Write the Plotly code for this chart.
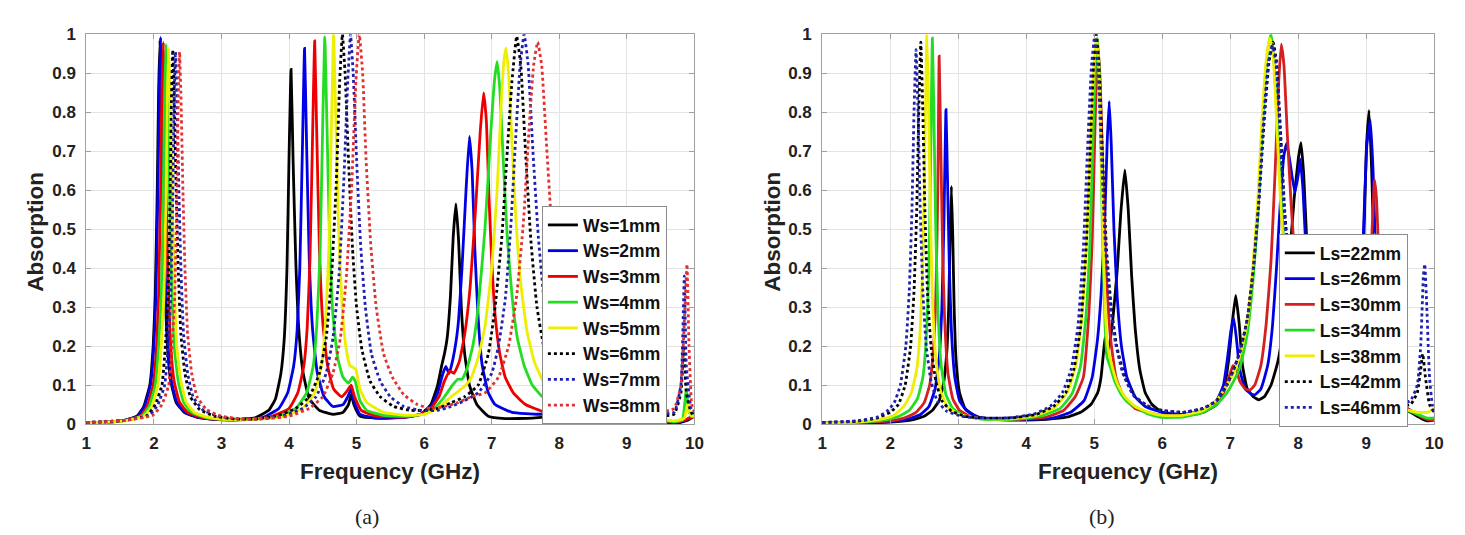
import plotly.graph_objects as go

# ---------------- data: panel (a), Ws sweep ----------------
ws_labels = ["Ws=1mm", "Ws=2mm", "Ws=3mm", "Ws=4mm", "Ws=5mm", "Ws=6mm", "Ws=7mm", "Ws=8mm"]

ws1 = [(1.0,0.003),(1.3,0.005),(1.55,0.009),(1.75,0.02),(1.85,0.045),(1.94,0.1),(1.99,0.2),(2.02,0.33),(2.05,0.6),(2.07,0.85),(2.09,0.985),(2.11,0.85),(2.13,0.6),(2.16,0.37),(2.2,0.2),(2.25,0.11),(2.33,0.055),(2.45,0.03),(2.65,0.017),(2.9,0.012),(3.2,0.011),
       (3.5,0.016),(3.7,0.035),(3.8,0.065),(3.88,0.13),(3.93,0.22),(3.97,0.4),(4.0,0.68),(4.03,0.91),(4.06,0.68),(4.1,0.42),(4.15,0.23),(4.21,0.13),(4.3,0.065),(4.45,0.035),(4.65,0.025),(4.8,0.03),(4.88,0.05),(4.92,0.075),(4.96,0.05),(5.05,0.02),(5.3,0.015),(5.7,0.018),(5.95,0.025),
       (6.1,0.05),(6.2,0.1),(6.26,0.15),(6.3,0.18),(6.34,0.22),(6.39,0.33),(6.43,0.48),(6.47,0.565),(6.51,0.47),(6.55,0.3),(6.6,0.18),(6.67,0.1),(6.78,0.05),(6.95,0.02),(7.2,0.014),(7.6,0.015),(8.0,0.022),(8.3,0.03),(8.6,0.028),(9.0,0.02),(9.4,0.01),(9.6,0.004),(9.75,0.003),(9.9,0.01),(10.0,0.02)]
ws2 = [(1.0,0.003),(1.3,0.005),(1.55,0.009),(1.75,0.019),(1.86,0.045),(1.95,0.1),(2.0,0.2),(2.03,0.33),(2.06,0.6),(2.08,0.85),(2.1,0.993),(2.12,0.86),(2.14,0.62),(2.17,0.38),(2.21,0.2),(2.26,0.11),(2.34,0.056),(2.46,0.03),(2.66,0.017),(2.9,0.012),(3.2,0.011),
       (3.6,0.016),(3.85,0.04),(3.98,0.08),(4.07,0.15),(4.12,0.24),(4.16,0.4),(4.2,0.72),(4.23,0.964),(4.26,0.72),(4.3,0.42),(4.35,0.24),(4.42,0.13),(4.52,0.07),(4.65,0.045),(4.8,0.05),(4.87,0.07),(4.92,0.09),(4.96,0.06),(5.05,0.025),(5.3,0.015),(5.7,0.017),(5.95,0.025),
       (6.1,0.045),(6.2,0.08),(6.27,0.125),(6.32,0.148),(6.37,0.13),(6.43,0.17),(6.5,0.25),(6.56,0.4),(6.62,0.6),(6.67,0.738),(6.71,0.65),(6.75,0.45),(6.8,0.27),(6.86,0.15),(6.95,0.08),(7.05,0.05),(7.3,0.03),(7.7,0.025),(8.0,0.03),(8.5,0.035),(9.0,0.028),(9.4,0.015),(9.65,0.003),(9.8,0.005),(9.92,0.015),(10.0,0.03)]
ws3 = [(1.0,0.003),(1.3,0.005),(1.6,0.01),(1.8,0.02),(1.9,0.045),(1.99,0.1),(2.04,0.2),(2.07,0.33),(2.1,0.6),(2.12,0.85),(2.14,0.98),(2.16,0.85),(2.18,0.6),(2.21,0.38),(2.25,0.2),(2.3,0.11),(2.38,0.056),(2.5,0.03),(2.7,0.017),(2.95,0.012),(3.25,0.011),
       (3.7,0.017),(4.0,0.04),(4.13,0.08),(4.22,0.15),(4.27,0.25),(4.31,0.42),(4.35,0.75),(4.38,0.983),(4.41,0.75),(4.45,0.45),(4.5,0.26),(4.57,0.15),(4.66,0.09),(4.78,0.07),(4.86,0.085),(4.92,0.1),(4.97,0.07),(5.07,0.035),(5.3,0.02),(5.7,0.018),(5.95,0.025),
       (6.1,0.04),(6.22,0.07),(6.3,0.11),(6.38,0.136),(6.44,0.13),(6.52,0.16),(6.6,0.23),(6.68,0.35),(6.76,0.55),(6.83,0.75),(6.88,0.85),(6.92,0.78),(6.96,0.58),(7.0,0.42),(7.05,0.28),(7.12,0.18),(7.2,0.12),(7.32,0.08),(7.5,0.05),(7.8,0.03),(8.2,0.025),(8.6,0.025),(9.0,0.02),(9.4,0.012),(9.7,0.005),(9.85,0.01),(10.0,0.02)]
ws4 = [(1.0,0.003),(1.3,0.005),(1.6,0.01),(1.82,0.02),(1.93,0.045),(2.02,0.1),(2.07,0.2),(2.11,0.33),(2.14,0.6),(2.16,0.85),(2.18,0.975),(2.2,0.85),(2.23,0.6),(2.26,0.38),(2.3,0.2),(2.36,0.11),(2.44,0.056),(2.56,0.03),(2.76,0.017),(3.0,0.012),(3.3,0.011),
       (3.8,0.017),(4.1,0.04),(4.26,0.08),(4.36,0.15),(4.41,0.25),(4.46,0.44),(4.5,0.78),(4.53,0.993),(4.56,0.78),(4.6,0.48),(4.65,0.28),(4.72,0.17),(4.8,0.12),(4.88,0.105),(4.94,0.12),(4.98,0.11),(5.05,0.06),(5.15,0.035),(5.4,0.022),(5.75,0.02),(6.0,0.025),
       (6.15,0.04),(6.3,0.07),(6.42,0.1),(6.5,0.115),(6.56,0.115),(6.63,0.14),(6.72,0.2),(6.8,0.3),(6.9,0.5),(6.98,0.73),(7.04,0.88),(7.08,0.93),(7.12,0.86),(7.17,0.68),(7.23,0.48),(7.3,0.33),(7.38,0.22),(7.48,0.15),(7.6,0.1),(7.75,0.07),(7.95,0.045),(8.2,0.03),(8.6,0.025),(9.0,0.02),(9.4,0.012),(9.7,0.006),(9.82,0.01),(9.88,0.09),(9.92,0.03),(10.0,0.02)]
ws5 = [(1.0,0.003),(1.3,0.005),(1.6,0.009),(1.85,0.02),(1.97,0.045),(2.06,0.1),(2.11,0.2),(2.15,0.33),(2.18,0.6),(2.2,0.85),(2.22,0.965),(2.24,0.85),(2.27,0.6),(2.3,0.38),(2.34,0.2),(2.4,0.11),(2.48,0.056),(2.6,0.03),(2.8,0.017),(3.05,0.012),(3.35,0.011),
       (3.9,0.018),(4.2,0.04),(4.38,0.08),(4.48,0.15),(4.54,0.26),(4.59,0.45),(4.63,0.78),(4.66,1.0),(4.69,0.8),(4.73,0.52),(4.78,0.32),(4.84,0.2),(4.9,0.15),(4.95,0.145),(4.99,0.14),(5.05,0.09),(5.15,0.055),(5.4,0.03),(5.75,0.022),(6.0,0.025),
       (6.2,0.04),(6.4,0.07),(6.55,0.09),(6.62,0.1),(6.7,0.12),(6.8,0.17),(6.9,0.25),(7.0,0.4),(7.08,0.6),(7.14,0.82),(7.18,0.93),(7.21,0.965),(7.25,0.9),(7.3,0.72),(7.36,0.52),(7.43,0.36),(7.52,0.24),(7.63,0.16),(7.76,0.11),(7.92,0.075),(8.15,0.05),(8.5,0.035),(9.0,0.025),(9.4,0.015),(9.7,0.008),(9.85,0.015),(9.9,0.05),(9.95,0.02),(10.0,0.02)]
ws6 = [(1.0,0.004),(1.3,0.006),(1.6,0.01),(1.9,0.022),(2.02,0.05),(2.12,0.1),(2.17,0.2),(2.21,0.33),(2.24,0.58),(2.26,0.83),(2.28,0.96),(2.3,0.85),(2.33,0.6),(2.36,0.4),(2.4,0.23),(2.46,0.13),(2.54,0.07),(2.68,0.037),(2.9,0.02),(3.2,0.013),(3.5,0.013),
       (3.8,0.02),(4.1,0.04),(4.3,0.07),(4.45,0.13),(4.55,0.22),(4.63,0.38),(4.7,0.62),(4.75,0.88),(4.79,1.0),(4.83,0.9),(4.88,0.68),(4.94,0.45),(5.0,0.3),(5.08,0.19),(5.2,0.11),(5.35,0.07),(5.55,0.045),(5.8,0.035),(6.0,0.035),
       (6.2,0.04),(6.4,0.055),(6.6,0.07),(6.8,0.1),(6.95,0.18),(7.05,0.3),(7.15,0.48),(7.23,0.7),(7.3,0.88),(7.37,0.995),(7.43,0.92),(7.5,0.7),(7.58,0.47),(7.67,0.3),(7.78,0.19),(7.92,0.12),(8.1,0.075),(8.4,0.05),(8.8,0.035),(9.2,0.025),(9.5,0.02),(9.7,0.025),(9.8,0.08),(9.84,0.2),(9.88,0.08),(9.95,0.03),(10.0,0.02)]
ws7 = [(1.0,0.004),(1.3,0.006),(1.6,0.01),(1.93,0.022),(2.06,0.05),(2.16,0.1),(2.21,0.2),(2.25,0.33),(2.28,0.58),(2.3,0.83),(2.32,0.955),(2.34,0.85),(2.37,0.6),(2.4,0.4),(2.44,0.23),(2.5,0.13),(2.58,0.07),(2.72,0.037),(2.95,0.02),(3.25,0.013),(3.55,0.013),
       (3.9,0.02),(4.2,0.04),(4.4,0.07),(4.55,0.13),(4.65,0.22),(4.74,0.38),(4.81,0.62),(4.87,0.88),(4.91,1.0),(4.95,0.9),(5.0,0.68),(5.06,0.46),(5.13,0.3),(5.22,0.18),(5.35,0.11),(5.5,0.07),(5.7,0.045),(5.95,0.035),
       (6.2,0.035),(6.4,0.045),(6.6,0.06),(6.8,0.08),(7.0,0.13),(7.1,0.2),(7.2,0.32),(7.28,0.5),(7.35,0.72),(7.42,0.92),(7.48,1.0),(7.54,0.92),(7.61,0.7),(7.69,0.48),(7.78,0.31),(7.9,0.2),(8.05,0.13),(8.25,0.08),(8.6,0.05),(9.0,0.035),(9.4,0.025),(9.7,0.03),(9.8,0.1),(9.85,0.38),(9.88,0.15),(9.95,0.04),(10.0,0.03)]
ws8 = [(1.0,0.004),(1.3,0.006),(1.6,0.01),(1.98,0.022),(2.12,0.05),(2.22,0.1),(2.27,0.2),(2.31,0.33),(2.34,0.58),(2.36,0.83),(2.38,0.955),(2.4,0.85),(2.43,0.6),(2.46,0.4),(2.5,0.23),(2.56,0.13),(2.64,0.07),(2.78,0.037),(3.0,0.02),(3.3,0.013),(3.6,0.013),
       (4.0,0.02),(4.3,0.04),(4.5,0.07),(4.65,0.13),(4.76,0.22),(4.85,0.38),(4.93,0.62),(4.99,0.88),(5.04,1.0),(5.09,0.9),(5.14,0.68),(5.21,0.46),(5.29,0.3),(5.4,0.18),(5.53,0.12),(5.7,0.075),(5.9,0.05),
       (6.1,0.04),(6.3,0.045),(6.5,0.055),(6.7,0.07),(6.9,0.08),(7.1,0.12),(7.25,0.2),(7.37,0.33),(7.47,0.52),(7.55,0.75),(7.62,0.92),(7.68,0.98),(7.74,0.92),(7.81,0.72),(7.89,0.5),(7.98,0.33),(8.1,0.21),(8.25,0.13),(8.45,0.08),(8.8,0.05),(9.2,0.035),(9.5,0.03),(9.7,0.04),(9.8,0.1),(9.86,0.3),(9.89,0.41),(9.92,0.2),(9.96,0.05),(10.0,0.03)]

# ---------------- data: panel (b), Ls sweep ----------------
ls_labels = ["Ls=22mm", "Ls=26mm", "Ls=30mm", "Ls=34mm", "Ls=38mm", "Ls=42mm", "Ls=46mm"]

ls22 = [(1.0,0.002),(1.5,0.003),(2.0,0.005),(2.3,0.01),(2.5,0.02),(2.62,0.035),(2.72,0.06),(2.78,0.1),(2.83,0.18),(2.86,0.3),(2.88,0.48),(2.9,0.61),(2.92,0.48),(2.94,0.3),(2.97,0.16),(3.02,0.08),(3.1,0.04),(3.25,0.02),(3.5,0.012),(3.9,0.01),
        (4.3,0.012),(4.6,0.018),(4.8,0.03),(4.95,0.05),(5.05,0.08),(5.1,0.12),(5.14,0.19),(5.16,0.223),(5.18,0.18),(5.22,0.2),(5.28,0.28),(5.34,0.4),(5.39,0.54),(5.45,0.652),(5.5,0.55),(5.55,0.38),(5.6,0.25),(5.67,0.14),(5.75,0.08),(5.85,0.05),(6.0,0.03),(6.3,0.022),
        (6.6,0.03),(6.8,0.05),(6.92,0.1),(6.98,0.17),(7.03,0.26),(7.08,0.33),(7.13,0.26),(7.18,0.15),(7.25,0.09),(7.34,0.07),(7.42,0.062),(7.5,0.07),(7.6,0.1),(7.7,0.16),(7.78,0.25),(7.86,0.4),(7.94,0.58),(8.0,0.68),(8.04,0.722),(8.08,0.64),(8.13,0.45),(8.2,0.26),(8.3,0.14),(8.45,0.08),
        (8.65,0.06),(8.8,0.08),(8.9,0.2),(8.96,0.45),(9.0,0.7),(9.04,0.805),(9.08,0.65),(9.12,0.4),(9.18,0.2),(9.28,0.1),(9.45,0.05),(9.65,0.03),(9.8,0.015),(9.9,0.008),(10.0,0.01)]
ls26 = [(1.0,0.002),(1.5,0.003),(2.0,0.006),(2.25,0.012),(2.45,0.025),(2.57,0.045),(2.66,0.09),(2.72,0.17),(2.76,0.3),(2.79,0.52),(2.82,0.807),(2.84,0.65),(2.87,0.4),(2.9,0.24),(2.95,0.12),(3.02,0.06),(3.12,0.035),(3.3,0.018),(3.6,0.012),(4.0,0.012),
        (4.4,0.016),(4.65,0.03),(4.85,0.06),(4.97,0.12),(5.05,0.22),(5.1,0.33),(5.15,0.5),(5.19,0.72),(5.22,0.828),(5.25,0.72),(5.29,0.5),(5.34,0.32),(5.4,0.2),(5.48,0.12),(5.6,0.07),(5.75,0.045),(6.0,0.03),(6.3,0.025),
        (6.6,0.035),(6.8,0.06),(6.9,0.1),(6.96,0.17),(7.01,0.24),(7.05,0.272),(7.09,0.22),(7.14,0.14),(7.22,0.09),(7.3,0.078),(7.36,0.075),(7.45,0.09),(7.55,0.15),(7.62,0.25),(7.68,0.4),(7.74,0.58),(7.79,0.69),(7.83,0.72),(7.88,0.67),(7.95,0.594),(8.0,0.64),(8.03,0.68),(8.07,0.6),(8.12,0.42),(8.18,0.25),(8.26,0.14),(8.4,0.08),
        (8.6,0.06),(8.8,0.09),(8.9,0.22),(8.96,0.5),(9.01,0.72),(9.06,0.78),(9.1,0.65),(9.14,0.42),(9.2,0.22),(9.3,0.11),(9.45,0.06),(9.65,0.035),(9.8,0.02),(9.9,0.012),(10.0,0.015)]
ls30 = [(1.0,0.002),(1.5,0.004),(2.0,0.008),(2.2,0.015),(2.38,0.03),(2.5,0.055),(2.58,0.1),(2.63,0.18),(2.67,0.32),(2.7,0.6),(2.72,0.944),(2.74,0.75),(2.77,0.45),(2.8,0.27),(2.85,0.13),(2.92,0.065),(3.02,0.035),(3.2,0.018),(3.5,0.012),(3.9,0.012),
        (4.3,0.018),(4.55,0.035),(4.72,0.07),(4.84,0.12),(4.92,0.28),(4.97,0.47),(5.01,0.75),(5.04,0.93),(5.06,0.96),(5.09,0.87),(5.13,0.62),(5.18,0.38),(5.24,0.22),(5.32,0.12),(5.43,0.07),(5.6,0.04),(5.9,0.025),(6.2,0.02),
        (6.5,0.025),(6.75,0.045),(6.9,0.08),(6.98,0.12),(7.04,0.15),(7.08,0.145),(7.14,0.11),(7.22,0.09),(7.29,0.087),(7.36,0.1),(7.45,0.15),(7.53,0.26),(7.6,0.42),(7.66,0.65),(7.71,0.87),(7.75,0.975),(7.79,0.92),(7.84,0.74),(7.9,0.55),(7.97,0.38),(8.05,0.26),(8.15,0.17),(8.3,0.1),(8.5,0.065),
        (8.7,0.07),(8.85,0.1),(8.97,0.2),(9.05,0.38),(9.1,0.55),(9.12,0.627),(9.15,0.58),(9.19,0.4),(9.25,0.22),(9.35,0.1),(9.5,0.05),(9.7,0.03),(9.85,0.015),(9.95,0.01),(10.0,0.012)]
ls34 = [(1.0,0.002),(1.5,0.004),(1.9,0.01),(2.1,0.018),(2.28,0.035),(2.4,0.065),(2.48,0.12),(2.53,0.22),(2.57,0.4),(2.6,0.75),(2.62,0.99),(2.64,0.82),(2.67,0.5),(2.7,0.3),(2.75,0.15),(2.82,0.075),(2.92,0.04),(3.1,0.02),(3.4,0.012),(3.8,0.012),
        (4.2,0.02),(4.5,0.04),(4.68,0.08),(4.8,0.15),(4.88,0.28),(4.94,0.48),(4.98,0.72),(5.02,0.93),(5.05,0.99),(5.08,0.88),(5.12,0.5),(5.16,0.25),(5.19,0.17),(5.23,0.15),(5.3,0.11),(5.4,0.075),(5.5,0.055),(5.6,0.045),(5.8,0.025),(6.0,0.017),(6.3,0.018),
        (6.6,0.03),(6.8,0.05),(6.95,0.08),(7.05,0.11),(7.15,0.15),(7.25,0.23),(7.33,0.36),(7.4,0.52),(7.46,0.72),(7.52,0.9),(7.57,0.98),(7.6,1.0),(7.64,0.94),(7.7,0.75),(7.77,0.52),(7.85,0.34),(7.95,0.21),(8.08,0.13),(8.25,0.08),(8.45,0.055),
        (8.65,0.05),(8.85,0.08),(8.97,0.17),(9.05,0.32),(9.1,0.44),(9.12,0.487),(9.15,0.44),(9.2,0.3),(9.27,0.16),(9.38,0.08),(9.55,0.04),(9.75,0.025),(9.9,0.015),(10.0,0.015)]
ls38 = [(1.0,0.003),(1.5,0.005),(1.85,0.012),(2.05,0.022),(2.2,0.045),(2.31,0.08),(2.39,0.14),(2.44,0.24),(2.48,0.42),(2.51,0.72),(2.54,1.0),(2.56,0.85),(2.59,0.55),(2.62,0.33),(2.67,0.17),(2.74,0.085),(2.84,0.045),(3.0,0.025),(3.3,0.015),(3.7,0.013),
        (4.1,0.02),(4.4,0.04),(4.6,0.08),(4.73,0.15),(4.82,0.28),(4.89,0.48),(4.95,0.74),(5.0,0.93),(5.04,0.99),(5.08,0.86),(5.12,0.55),(5.16,0.3),(5.2,0.2),(5.26,0.15),(5.35,0.1),(5.45,0.07),(5.6,0.045),(5.8,0.03),(6.0,0.022),(6.3,0.022),
        (6.6,0.035),(6.8,0.06),(6.95,0.1),(7.05,0.13),(7.15,0.18),(7.25,0.26),(7.33,0.4),(7.4,0.56),(7.46,0.76),(7.52,0.92),(7.58,0.99),(7.62,0.97),(7.67,0.82),(7.73,0.6),(7.8,0.4),(7.88,0.26),(7.98,0.17),(8.1,0.11),(8.3,0.07),(8.5,0.05),
        (8.7,0.05),(8.88,0.09),(9.0,0.2),(9.08,0.37),(9.12,0.45),(9.15,0.42),(9.2,0.3),(9.27,0.16),(9.38,0.08),(9.55,0.04),(9.75,0.03),(9.9,0.03),(10.0,0.04)]
ls42 = [(1.0,0.004),(1.5,0.007),(1.8,0.015),(2.0,0.03),(2.12,0.05),(2.22,0.1),(2.3,0.2),(2.35,0.34),(2.39,0.55),(2.42,0.8),(2.45,0.98),(2.48,0.8),(2.51,0.55),(2.55,0.33),(2.6,0.2),(2.67,0.11),(2.76,0.06),(2.9,0.033),(3.1,0.02),(3.4,0.015),(3.8,0.016),
        (4.15,0.025),(4.4,0.045),(4.58,0.08),(4.7,0.14),(4.8,0.25),(4.88,0.45),(4.94,0.7),(4.99,0.92),(5.03,1.0),(5.07,0.92),(5.12,0.7),(5.18,0.45),(5.25,0.3),(5.33,0.2),(5.45,0.12),(5.6,0.07),(5.8,0.045),(6.0,0.035),(6.3,0.03),
        (6.6,0.04),(6.8,0.06),(6.95,0.1),(7.05,0.14),(7.15,0.19),(7.25,0.27),(7.34,0.4),(7.42,0.57),(7.5,0.78),(7.57,0.93),(7.63,0.98),(7.68,0.93),(7.74,0.75),(7.8,0.55),(7.88,0.38),(7.98,0.24),(8.1,0.15),(8.3,0.09),(8.6,0.06),
        (9.0,0.05),(9.4,0.045),(9.65,0.05),(9.75,0.08),(9.8,0.14),(9.83,0.18),(9.87,0.12),(9.93,0.05),(10.0,0.03)]
ls46 = [(1.0,0.004),(1.5,0.008),(1.8,0.017),(1.95,0.032),(2.06,0.055),(2.15,0.1),(2.23,0.2),(2.28,0.34),(2.32,0.55),(2.35,0.8),(2.38,0.961),(2.41,0.8),(2.44,0.56),(2.48,0.34),(2.53,0.2),(2.6,0.11),(2.69,0.06),(2.83,0.033),(3.05,0.02),(3.35,0.015),(3.75,0.016),
        (4.1,0.025),(4.35,0.045),(4.53,0.08),(4.66,0.14),(4.76,0.25),(4.84,0.45),(4.9,0.7),(4.96,0.92),(5.01,1.0),(5.05,0.93),(5.1,0.72),(5.16,0.47),(5.23,0.31),(5.31,0.21),(5.42,0.13),(5.57,0.075),(5.75,0.05),(5.95,0.035),(6.3,0.03),
        (6.6,0.04),(6.8,0.06),(6.95,0.1),(7.05,0.14),(7.15,0.19),(7.25,0.27),(7.34,0.4),(7.42,0.57),(7.49,0.78),(7.56,0.93),(7.62,0.97),(7.67,0.93),(7.73,0.76),(7.79,0.56),(7.87,0.38),(7.97,0.24),(8.1,0.15),(8.3,0.09),(8.6,0.06),
        (9.0,0.05),(9.4,0.05),(9.65,0.06),(9.75,0.1),(9.8,0.2),(9.84,0.38),(9.86,0.41),(9.89,0.3),(9.93,0.12),(9.97,0.05),(10.0,0.03)]

x_ticks = [1, 2, 3, 4, 5, 6, 7, 8, 9, 10]
y_ticks = [0, 0.1, 0.2, 0.3, 0.4, 0.5, 0.6, 0.7, 0.8, 0.9, 1.0]
y_ticktext = ["0", "0.1", "0.2", "0.3", "0.4", "0.5", "0.6", "0.7", "0.8", "0.9", "1"]

# ---------------- styles ----------------
BLACK, BLUE, RED, GREEN, YELLOW = "#000000", "#0000e6", "#ee0000", "#22dd22", "#eeee00"
ws_series = [ws1, ws2, ws3, ws4, ws5, ws6, ws7, ws8]
ws_styles = [(BLACK, "solid"), (BLUE, "solid"), (RED, "solid"), (GREEN, "solid"), (YELLOW, "solid"),
             (BLACK, "dot"), ("#2020b0", "dot"), ("#e03030", "dot")]
ls_series = [ls22, ls26, ls30, ls34, ls38, ls42, ls46]
ls_styles = [(BLACK, "solid"), (BLUE, "solid"), ("#d42020", "solid"), (GREEN, "solid"), (YELLOW, "solid"),
             (BLACK, "dot"), ("#2020b0", "dot")]

W, H = 1465, 535
def px_x(p): return p / W
def px_y(p): return 1 - p / H

fig = go.Figure()
for i, (lab, s, (c, d)) in enumerate(zip(ws_labels, ws_series, ws_styles)):
    fig.add_trace(go.Scatter(x=[p[0] for p in s], y=[p[1] for p in s], mode="lines", name=lab,
                             line=dict(color=c, width=2.8, dash=d, shape="spline", smoothing=0.4),
                             xaxis="x", yaxis="y", legend="legend"))
for i, (lab, s, (c, d)) in enumerate(zip(ls_labels, ls_series, ls_styles)):
    fig.add_trace(go.Scatter(x=[p[0] for p in s], y=[p[1] for p in s], mode="lines", name=lab,
                             line=dict(color=c, width=2.8, dash=d, shape="spline", smoothing=0.4),
                             xaxis="x2", yaxis="y2", legend="legend2"))

FONT = "Liberation Sans, Arial, sans-serif"
tickfont = dict(family=FONT, size=17, color="#222222", weight="bold")
axis_common = dict(showgrid=True, gridcolor="#e4e4e4", gridwidth=1, showline=True, linecolor="#a0a0a0",
                   linewidth=1, mirror="ticks", ticks="inside", ticklen=5, tickcolor="#a0a0a0",
                   zeroline=False, tickfont=tickfont, fixedrange=True)

legend_font = dict(family=FONT, size=17.5, color="#111111", weight="bold")
fig.update_layout(
    width=W, height=H, autosize=False, margin=dict(l=0, r=0, t=0, b=0),
    paper_bgcolor="white", plot_bgcolor="white", showlegend=True,
    xaxis=dict(domain=[px_x(74), px_x(688)], range=[1, 10], tickvals=x_ticks, anchor="y", ticklabelstandoff=4, **axis_common),
    yaxis=dict(domain=[px_y(422), px_y(18)], range=[0, 1], tickvals=y_ticks, ticktext=y_ticktext, anchor="x", ticklabelstandoff=6, **axis_common),
    xaxis2=dict(domain=[px_x(817), px_x(1435)], range=[1, 10], tickvals=x_ticks, anchor="y2", ticklabelstandoff=4, **axis_common),
    yaxis2=dict(domain=[px_y(422), px_y(18)], range=[0, 1], tickvals=y_ticks, ticktext=y_ticktext, anchor="x2", ticklabelstandoff=6, **axis_common),
    legend=dict(x=px_x(534), y=px_y(196), xanchor="left", yanchor="top", bgcolor="white",
                bordercolor="#8c8c8c", borderwidth=1, font=legend_font),
    legend2=dict(x=px_x(1278), y=px_y(225), xanchor="left", yanchor="top", bgcolor="white",
                 bordercolor="#8c8c8c", borderwidth=1, font=legend_font),
)

title_font = dict(family=FONT, size=22.5, color="#222222", weight="bold")
ann = [
    dict(text="Absorption", x=px_x(22), y=px_y(223), textangle=-90, font=title_font),
    dict(text="Absorption", x=px_x(766), y=px_y(223), textangle=-90, font=title_font),
    dict(text="Frequency (GHz)", x=px_x(381), y=px_y(471), font=title_font),
    dict(text="Frequency (GHz)", x=px_x(1126), y=px_y(471), font=title_font),
    dict(text="(a)", x=px_x(357), y=px_y(518), font=dict(family="Liberation Serif, Times New Roman, serif", size=22, color="#222222")),
    dict(text="(b)", x=px_x(1100), y=px_y(518), font=dict(family="Liberation Serif, Times New Roman, serif", size=22, color="#222222")),
]
for a in ann:
    fig.add_annotation(xref="paper", yref="paper", showarrow=False, xanchor="center", yanchor="middle", **a)

fig.write_html("out.html")
